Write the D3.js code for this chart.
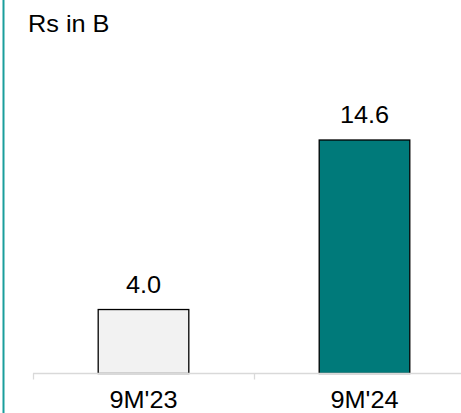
<!DOCTYPE html>
<html>
<head>
<meta charset="utf-8">
<script src="https://cdn.jsdelivr.net/npm/d3@7"></script>
<style>
  html, body { margin: 0; padding: 0; background: #fff; }
  svg { display: block; }
  text { font-family: Arial, "Liberation Sans", sans-serif; fill: #000; }
</style>
</head>
<body>
<script>
// Revenue by period, Rs in billions
const categories = ["9M'23", "9M'24"];
const values = [4.0, 14.6];
const barColors = ["#f2f2f2", "#007a7a"];
const unitLabel = "Rs in B";

const W = 461, H = 413;
const FS = 23;
const svg = d3.select("body").append("svg").attr("width", W).attr("height", H);

// slightly widened text, drawn around its anchor point
function wideText(sel) {
  sel.attr("transform", function () {
    const tx = +this.getAttribute("x"), ty = +this.getAttribute("y");
    return `translate(${tx},${ty}) scale(1.1,1) translate(${-tx},${-ty})`;
  });
}

// left accent rule
svg.append("line")
  .attr("x1", 3.5).attr("x2", 3.5).attr("y1", 0).attr("y2", H)
  .attr("stroke", "#1a9e9c").attr("stroke-width", 2);

const baseY = 373.5;
const x = d3.scaleBand().domain(categories).range([33, 475]).paddingInner(0).paddingOuter(0);
const y = d3.scaleLinear().domain([0, 14.6]).range([baseY, 140]);

const barW = x.bandwidth() * 0.41;

svg.selectAll("rect.bar").data(values).join("rect")
  .attr("class", "bar")
  .attr("x", (d, i) => x(categories[i]) + (x.bandwidth() - barW) / 2)
  .attr("width", barW)
  .attr("y", d => y(d))
  .attr("height", d => baseY - y(d))
  .attr("fill", (d, i) => barColors[i])
  .attr("stroke", "#000")
  .attr("stroke-width", 1.3);

// category axis
const axis = svg.append("g").attr("transform", `translate(0,${baseY})`);
axis.append("line").attr("x1", 33).attr("x2", W).attr("stroke", "#d9d9d9").attr("stroke-width", 1.3);
axis.selectAll("line.tick").data(categories).join("line")
  .attr("class", "tick")
  .attr("x1", d => x(d) + 0.5).attr("x2", d => x(d) + 0.5)
  .attr("y1", 0).attr("y2", 6)
  .attr("stroke", "#d9d9d9").attr("stroke-width", 1.3);

svg.selectAll("text.cat").data(categories).join("text")
  .attr("class", "cat")
  .attr("x", d => x(d) + x.bandwidth() / 2)
  .attr("y", 408.5)
  .attr("text-anchor", "middle")
  .attr("font-size", FS)
  .text(d => d)
  .call(wideText);

// value labels
svg.selectAll("text.val").data(values).join("text")
  .attr("class", "val")
  .attr("x", (d, i) => x(categories[i]) + x.bandwidth() / 2)
  .attr("y", d => y(d) - 16.5)
  .attr("text-anchor", "middle")
  .attr("font-size", FS)
  .text(d => d.toFixed(1))
  .call(wideText);

svg.append("text")
  .attr("x", 28).attr("y", 32)
  .attr("font-size", FS)
  .text(unitLabel)
  .call(wideText);
</script>
</body>
</html>
